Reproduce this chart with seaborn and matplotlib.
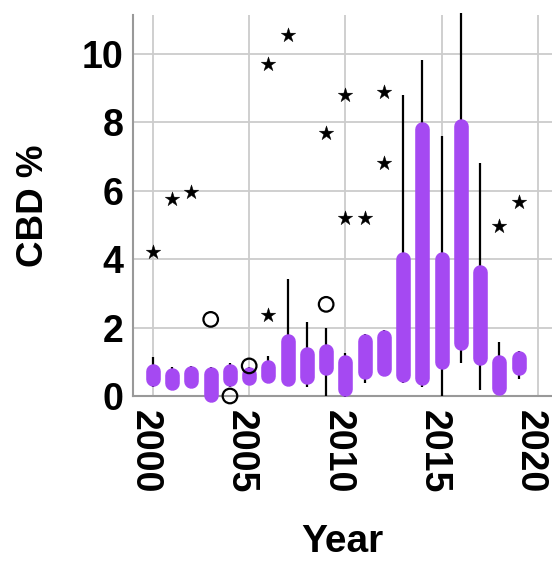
import matplotlib
matplotlib.use("Agg")
import matplotlib.pyplot as plt
import matplotlib.transforms as mtransforms
import pandas as pd
import seaborn as sns

# Box plot summary per year (visible box edges, whisker ends)
years = list(range(2000, 2020))
box_top = [0.95, 0.84, 0.89, 0.86, 0.93, 0.86, 1.05, 1.81, 1.44, 1.54,
           1.20, 1.81, 1.93, 4.22, 8.02, 4.22, 8.12, 3.83, 1.20, 1.33]
box_bottom = [0.27, 0.18, 0.22, -0.17, 0.27, 0.32, 0.37, 0.29, 0.35, 0.61,
              -0.02, 0.49, 0.58, 0.39, 0.32, 0.78, 1.35, 0.91, 0.03, 0.61]
whisker_high = [1.13, 0.84, 0.89, 0.86, 0.97, 0.86, 1.17, 3.41, 2.17, 2.00,
                1.27, 1.81, 1.93, 8.80, 9.82, 7.60, 11.2, 6.80, 1.59, 1.33]
whisker_low = [0.27, 0.18, 0.22, -0.17, 0.27, 0.32, 0.37, 0.29, 0.27, 0.00,
               -0.02, 0.39, 0.58, 0.39, 0.27, 0.00, 0.97, 0.18, 0.03, 0.49]

# extreme values (stars) and outliers (circles)
star_years = [2000, 2001, 2002, 2006, 2006, 2007, 2009, 2010, 2010, 2011,
              2012, 2012, 2018, 2019]
star_values = [4.2, 5.75, 5.97, 2.37, 9.7, 10.55, 7.7, 8.8, 5.2, 5.2,
               8.9, 6.8, 4.97, 5.66]
circle_years = [2003, 2004, 2005, 2009]
circle_values = [2.24, 0.0, 0.88, 2.68]

purple = "#a549f2"
box_lw = 10.5

sns.set_theme(style="whitegrid")
plt.rcParams["font.family"] = ["Liberation Sans", "DejaVu Sans"]
plt.rcParams["text.color"] = "black"
plt.rcParams["xtick.color"] = "black"
plt.rcParams["ytick.color"] = "black"
plt.rcParams["axes.labelcolor"] = "black"

fig = plt.figure(figsize=(5.52, 5.61), dpi=100)
ax = fig.add_axes([133 / 552, 1 - 396 / 561, 419 / 552, 381 / 561])
ax.set_xlim(1998.96, 2020.74)
ax.set_ylim(0, 11.14)

# shrink box ends by the round cap radius so the drawn box spans the values
r_px = box_lw / 2 * fig.dpi / 72
px_per_unit = ax.transData.transform((0, 1))[1] - ax.transData.transform((0, 0))[1]
r = r_px / px_per_unit

ax.vlines(years, whisker_low, whisker_high, color="black", linewidth=1.6,
          zorder=3, clip_on=False)
ax.vlines(years, [b + r for b in box_bottom], [t - r for t in box_top],
          color=purple, linewidth=box_lw, capstyle="round", zorder=4,
          clip_on=False)

stars = pd.DataFrame({"Year": star_years, "CBD": star_values})
circles = pd.DataFrame({"Year": circle_years, "CBD": circle_values})
sns.scatterplot(data=stars, x="Year", y="CBD", marker="*", s=120,
                color="black", edgecolor="black", linewidth=0.3, ax=ax,
                zorder=5, clip_on=False)
sns.scatterplot(data=circles, x="Year", y="CBD", marker="o", s=110,
                facecolor="none", edgecolor="black", linewidth=1.6, ax=ax,
                zorder=5, clip_on=False)

ax.set_xticks([2000, 2005, 2010, 2015, 2020])
ax.set_yticks([0, 2, 4, 6, 8, 10])
ax.grid(True, color="#cccccc", linewidth=1.3)
for side in ["top", "right"]:
    ax.spines[side].set_visible(False)
for side in ["left", "bottom"]:
    ax.spines[side].set_color("#999999")
    ax.spines[side].set_linewidth(1.5)
ax.tick_params(axis="both", length=0, labelsize=27)
ax.tick_params(axis="x", pad=10)
ax.tick_params(axis="y", pad=7)
shift = mtransforms.ScaledTranslation(-8 / 100, 0, fig.dpi_scale_trans)
for lab in ax.get_xticklabels():
    lab.set_rotation(-90)
    lab.set_ha("center")
    lab.set_va("top")
    lab.set_fontweight("bold")
    lab.set_transform(lab.get_transform() + shift)
for lab in ax.get_yticklabels():
    lab.set_fontweight("bold")

ax.set_xlabel("Year", fontsize=28, fontweight="bold", labelpad=22)
ax.set_ylabel("CBD %", fontsize=26.5, fontweight="bold", labelpad=22)

fig.savefig("out.png", dpi=100)
